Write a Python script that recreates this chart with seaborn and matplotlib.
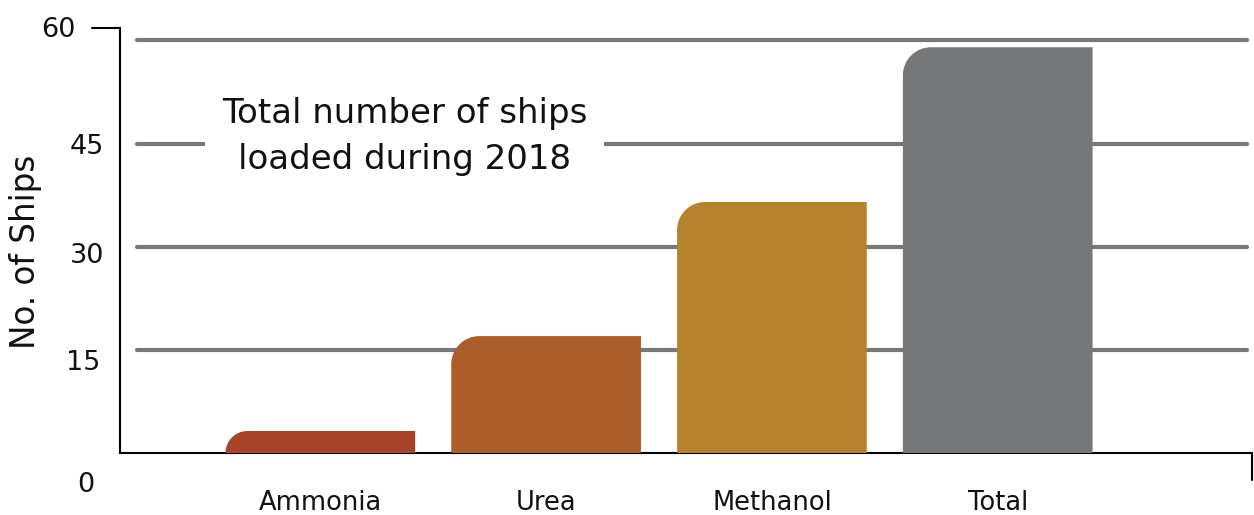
import numpy as np
import pandas as pd
import matplotlib
matplotlib.use('Agg')
import matplotlib.pyplot as plt
import matplotlib.transforms as mtransforms
from matplotlib.path import Path
from matplotlib.patches import PathPatch
import seaborn as sns

# Chart data
cargo = ['Ammonia', 'Urea', 'Methanol', 'Total']
ships = [3.2, 17, 36.5, 59]
bar_colors = ['#A8432A', '#AD5D2A', '#B8812E', '#767779']
y_ticks = [0, 15, 30, 45, 60]
title_text = 'Total number of ships\nloaded during 2018'

df = pd.DataFrame({'cargo': cargo, 'ships': ships})

sns.set_style('white')
plt.rcParams['font.family'] = ['DejaVu Sans']

fig = plt.figure(figsize=(12.54, 5.15), dpi=100)
ax = fig.add_axes([120 / 1254, 1 - 453 / 515, 1132 / 1254, 425 / 515])

sns.barplot(data=df, x='cargo', y='ships', hue='cargo', palette=bar_colors,
            legend=False, width=0.84, saturation=1, ax=ax, zorder=3)

ax.set_xlim(-0.887, 4.126)
ax.set_ylim(0, 61.8)

# swap the plain rectangles for bars with a rounded top-left corner
px_x = 1132 / (4.126 + 0.887)
px_y = 425 / 61.8
radius = 28
kk = 0.5523
for patch in list(ax.patches):
    x, y = patch.get_x(), patch.get_y()
    w, h = patch.get_width(), patch.get_height()
    r_px = min(radius, h * px_y)
    rx, ry = r_px / px_x, r_px / px_y
    verts = [(x, y), (x + w, y), (x + w, y + h), (x + rx, y + h),
             (x + rx - kk * rx, y + h), (x, y + h - ry + kk * ry), (x, y + h - ry),
             (x, y)]
    codes = [Path.MOVETO, Path.LINETO, Path.LINETO, Path.LINETO,
             Path.CURVE4, Path.CURVE4, Path.CURVE4, Path.CLOSEPOLY]
    ax.add_patch(PathPatch(Path(verts, codes), facecolor=patch.get_facecolor(),
                           edgecolor='none', zorder=3))
    patch.remove()

# grid lines
for v in y_ticks[1:]:
    ax.axhline(v, xmin=0.015, xmax=0.996, color='#787878', lw=3, zorder=1)

# title box breaking the grid
ax.text(0.374, 46.0, title_text, ha='center', va='center', fontsize=24.5,
        color='#111111', linespacing=1.5, zorder=4,
        bbox=dict(facecolor='white', edgecolor='none', pad=12))

# spines
sns.despine(ax=ax, top=True, right=True)
for s in ['left', 'bottom']:
    ax.spines[s].set_color('black')
    ax.spines[s].set_linewidth(1.5)
ax.plot([-0.025, 0], [1, 1], transform=ax.transAxes, color='black', lw=1.5,
        clip_on=False)
ax.plot([1, 1], [0, -0.063], transform=ax.transAxes, color='black', lw=1.5,
        clip_on=False)

ax.set_xlabel('')
ax.set_ylabel('No. of Ships', fontsize=23.5, color='#111111')
ax.yaxis.set_label_coords(-0.069, 0.473)
ax.set_yticks(y_ticks)
ax.set_yticklabels([str(t) for t in y_ticks])
ax.tick_params(axis='y', length=0, pad=11.5, labelsize=19.5, labelcolor='#111111')
ax.tick_params(axis='x', length=0, pad=27, labelsize=18.5, labelcolor='#111111')

offsets = [(-10, -29), (-4, -10), (0, -6), (0, 0), (-29, 13)]
for lab, (dx, dy) in zip(ax.get_yticklabels(), offsets):
    lab.set_transform(lab.get_transform() +
                      mtransforms.ScaledTranslation(dx / 100, dy / 100, fig.dpi_scale_trans))

fig.savefig('out.png', dpi=100)
